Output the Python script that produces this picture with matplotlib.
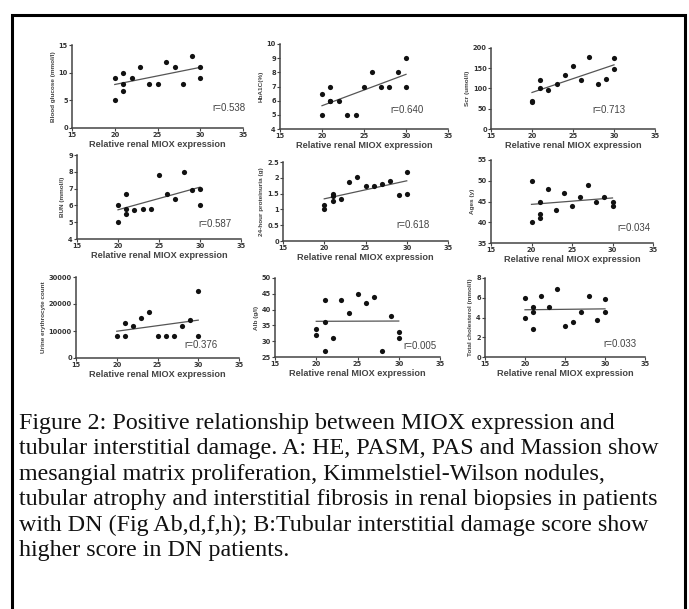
import matplotlib
matplotlib.use("Agg")
import matplotlib.pyplot as plt
from matplotlib.patches import Rectangle
import numpy as np

W, H = 689, 609

# x values (relative renal MIOX expression) for each panel
miox = [20, 20, 21, 21, 21, 22, 23, 24, 25, 26, 27, 28, 29, 30, 30]
miox_scr = [20, 20, 21, 21, 22, 23, 24, 25, 26, 27, 28, 29, 30, 30]
miox_ure = [20, 21, 21, 22, 23, 24, 25, 26, 27, 28, 29, 30, 30]

glucose = [9, 5, 10, 8, 6.7, 9, 11, 8, 8, 12, 11, 8, 13, 11, 9]
hba1c = [6.5, 5, 7, 6, 6, 6, 5, 5, 7, 8, 7, 7, 8, 9, 7]
scr = [70, 67, 120, 101, 97, 112, 134, 156, 120, 177, 112, 123, 176, 148]
bun = [6.0, 5.0, 6.7, 5.8, 5.5, 5.7, 5.8, 5.8, 7.8, 6.7, 6.4, 8.0, 6.9, 7.0, 6.0]
prot = [1.13, 1.0, 1.49, 1.43, 1.26, 1.34, 1.86, 2.04, 1.75, 1.73, 1.8, 1.9, 1.44, 2.17, 1.5]
ages = [50, 40, 45, 42, 41, 48, 43, 47, 44, 46, 49, 45, 46, 45, 44]
ure = [8000, 13000, 8000, 12000, 15000, 17000, 8000, 8000, 8000, 12000, 14000, 25000, 8000]
alb = [34, 32, 43, 36, 27, 31, 43, 39, 45, 42, 44, 27, 38, 33, 31]
chol = [6.0, 4.0, 5.1, 4.6, 2.8, 6.15, 5.1, 6.9, 3.15, 3.55, 4.6, 6.15, 3.75, 5.9, 4.6]

ylabels = ["Blood glucose (mmol/l)", "HbA1C(%)", "Scr (umol/l)",
           "BUN (mmol/l)", "24-hour proteinuria (g)", "Ages (y)",
           "Urine erythrocyte count", "Alb (g/l)", "Total cholesterol (mmol/l)"]
r_texts = ["r=0.538", "r=0.640", "r=0.713", "r=0.587", "r=0.618",
           "r=0.034", "r=0.376", "r=0.005", "r=0.033"]
ylims = [(0, 15), (4, 10), (0, 200), (4, 9), (0, 2.5), (35, 55),
         (0, 30000), (25, 50), (0, 8)]
yticks = [[0, 5, 10, 15], [4, 5, 6, 7, 8, 9, 10], [0, 50, 100, 150, 200],
          [4, 5, 6, 7, 8, 9], [0, 0.5, 1, 1.5, 2, 2.5], [35, 40, 45, 50, 55],
          [0, 10000, 20000, 30000], [25, 30, 35, 40, 45, 50], [0, 2, 4, 6, 8]]
r_pos = [(31.4, 3.7), (28.1, 5.35), (27.4, 48), (29.8, 4.9), (28.8, 0.5),
         (30.6, 38.5), (28.3, 4700), (30.5, 28.5), (29.8, 1.35)]

xs = [miox, miox, miox_scr, miox, miox, miox, miox_ure, miox, miox]
ys = [glucose, hba1c, scr, bun, prot, ages, ure, alb, chol]

# axes boxes in pixels: left, right, top, bottom
boxes = [(72, 243, 45, 128), (280, 448, 44, 129), (491, 655, 48, 129),
         (77, 241, 155, 239), (283, 448, 162, 241), (491, 653, 160, 243),
         (76, 239, 277, 358), (275, 440, 278, 357), (485, 645, 278, 357)]

caption = [
    "Figure 2: Positive relationship between MIOX expression and",
    "tubular interstitial damage. A: HE, PASM, PAS and Massion show",
    "mesangial matrix proliferation, Kimmelstiel-Wilson nodules,",
    "tubular atrophy and interstitial fibrosis in renal biopsies in patients",
    "with DN (Fig Ab,d,f,h); B:Tubular interstitial damage score show",
    "higher score in DN patients.",
]

fig = plt.figure(figsize=(W / 100, H / 100), dpi=100)
grey = "#444444"

for i in range(9):
    l, r, t, b = boxes[i]
    ax = fig.add_axes([l / W, 1 - b / H, (r - l) / W, (b - t) / H])
    x = np.array(xs[i], dtype=float)
    y = np.array(ys[i], dtype=float)
    ax.scatter(x, y, s=14, color="#111111", zorder=3, linewidths=0)
    # least squares line over the observed range
    k, c = np.polyfit(x, y, 1)
    xx = np.array([x.min(), x.max()])
    ax.plot(xx, k * xx + c, color="#555555", lw=0.9)
    ax.set_xlim(15, 35)
    ax.set_ylim(*ylims[i])
    ax.set_xticks([15, 20, 25, 30, 35])
    ax.set_yticks(yticks[i])
    ax.set_yticklabels([f"{v:g}" for v in yticks[i]])
    for s in ["top", "right"]:
        ax.spines[s].set_visible(False)
    for s in ["left", "bottom"]:
        ax.spines[s].set_color(grey)
        ax.spines[s].set_linewidth(1.1)
    ax.tick_params(labelsize=4.8, length=2, width=0.8, color=grey,
                   labelcolor="#333333", pad=1)
    for lab in ax.get_xticklabels() + ax.get_yticklabels():
        lab.set_fontweight("bold")
    ax.set_xlabel("Relative renal MIOX expression", fontsize=6.6,
                  fontweight="bold", color="#444444", labelpad=1.5,
                  family="Liberation Sans")
    ax.set_ylabel(ylabels[i], fontsize=4.6, fontweight="bold",
                  color="#444444", labelpad=2, family="Liberation Sans")
    ax.text(r_pos[i][0], r_pos[i][1], r_texts[i], fontsize=7,
            color="#444444", va="center", ha="left", family="Liberation Sans")
    ax.patch.set_alpha(0)

fig.text(19 / W, 1 - 413 / H, "\n".join(caption), fontsize=17.3,
         family="Liberation Serif", va="top", ha="left", color="#111111",
         linespacing=1.27)

frame = Rectangle((12 / W, -0.1), (685 - 12) / W, 1.1 - 15 / H,
                  transform=fig.transFigure, fill=False, lw=2.2,
                  edgecolor="black")
fig.patches.append(frame)

fig.savefig("out.png", dpi=100)
